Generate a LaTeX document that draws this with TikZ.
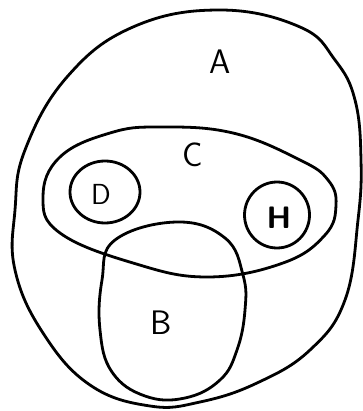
\documentclass[tikz,border=0pt]{standalone}
\usetikzlibrary{shapes.geometric}
\begin{document}
\begin{tikzpicture}[x=1pt,y=-1pt,
  setline/.style={draw=black,line width=2.8pt,line join=round},
  lab/.style={font=\sffamily\fontsize{34}{34}\selectfont},
  ring/.style={setline,ellipse,inner sep=0pt}]
\useasboundingbox[fill=white] (0,0) rectangle (362,411);
% A
\draw[setline] plot[smooth cycle,tension=0.7] coordinates {
 (220,10) (300,27) (335,60) (355,100) (361,160) (358,220) (345,300) (310,350)
 (257,383) (200,402) (150,406) (90,385) (43,333) (15,270) (15,210) (25,150) (67,77) (133,27)};
% C
\draw[setline] plot[smooth cycle,tension=0.7] coordinates {
 (43,197) (60,157) (110,133) (160,127) (233,133) (300,160) (328,180) (336,205) (325,235)
 (283,263) (207,277) (133,263) (60,233)};
% B
\draw[setline] plot[smooth cycle,tension=0.7] coordinates {
 (177,222) (225,238) (243,275) (245,310) (237,350) (220,380) (185,398) (145,396)
 (112,372) (100,330) (102,280) (115,240)};
\node[ring,minimum width=70,minimum height=62] (D) at (105,192) {};
\node[ring,minimum width=65,minimum height=66] (H) at (277,215) {};
\node[lab] (la) at (220,62) {A};
\node[lab] (lc) at (193,155) {C};
\node[lab,font=\sffamily\fontsize{29}{29}\selectfont] (ld) at (101,194) {D};
\node[lab,font=\sffamily\bfseries\fontsize{31}{31}\selectfont] (lh) at (279,218) {H};
\node[lab] (lb) at (161,323) {B};
\end{tikzpicture}
\end{document}
